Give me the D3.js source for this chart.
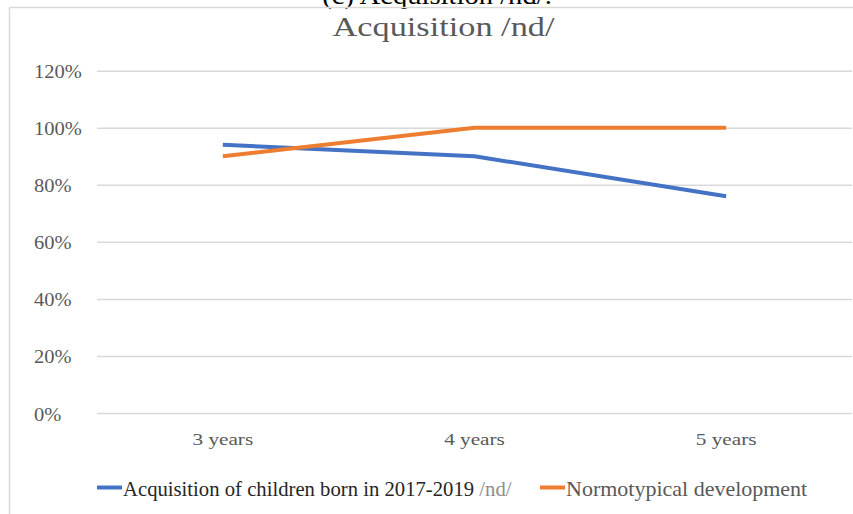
<!DOCTYPE html>
<html>
<head>
<meta charset="utf-8">
<script src="https://cdn.jsdelivr.net/npm/d3@7"></script>
<style>
  html, body { margin: 0; padding: 0; background: #fff; }
  svg { display: block; }
  text { font-family: "Liberation Serif", "Times New Roman", serif; }
</style>
</head>
<body>
<svg id="chart" width="853" height="514"></svg>
<script>
// Data
const categories = ["3 years", "4 years", "5 years"];
const childrenValues = [0.94, 0.90, 0.76];
const normotypicalValues = [0.90, 1.00, 1.00];
const yTicks = [0, 0.2, 0.4, 0.6, 0.8, 1.0, 1.2];
const seriesNames = ["Acquisition of children born in 2017-2019", "Normotypical development"];
const seriesSuffix = [" /nd/", ""];
const seriesColors = ["#4472C4", "#ED7D31"];

const svg = d3.select("#chart");
const W = 853, H = 514;
const plot = { left: 97, right: 852, top: 70.7, bottom: 413 };

// Text drawn with a horizontal stretch around its anchor point
function stretchedText(parent, x, y, sx, size, fill, anchor, str) {
  return parent.append("text")
    .attr("transform", `translate(${x},${y}) scale(${sx},1)`)
    .attr("text-anchor", anchor)
    .attr("font-size", size)
    .attr("fill", fill)
    .text(str);
}

// Caption above the chart frame (partly off the top edge)
stretchedText(svg, 437, 4, 1.1, 26, "#000", "middle", "(c) Acquisition /nd/.");

// Chart frame
svg.append("line").attr("x1", 9.5).attr("x2", W).attr("y1", 7.5).attr("y2", 7.5)
  .attr("stroke", "#d9d9d9").attr("stroke-width", 1.5);
svg.append("line").attr("x1", 9.5).attr("x2", 9.5).attr("y1", 7.5).attr("y2", H)
  .attr("stroke", "#d9d9d9").attr("stroke-width", 1.5);

// Title
stretchedText(svg, 443.5, 36, 1.27, 27, "#595959", "middle", "Acquisition /nd/");

const x = d3.scalePoint().domain(categories).range([plot.left, plot.right]).padding(0.5);
const y = d3.scaleLinear().domain([0, 1.2]).range([plot.bottom, plot.top]);

// Gridlines
const yAxis = d3.axisLeft(y).tickValues(yTicks).tickFormat("")
  .tickSize(-(plot.right - plot.left));
const gy = svg.append("g").attr("transform", `translate(${plot.left},0)`).call(yAxis);
gy.select(".domain").remove();
gy.selectAll(".tick line").attr("stroke", "#d9d9d9").attr("stroke-width", 1.5);

// Y labels, left-aligned
const fmt = d3.format(".0%");
yTicks.forEach(t => {
  stretchedText(svg, 34, y(t) + 7.5, 1.14, 18, "#595959", "start", fmt(t));
});

// Category labels
categories.forEach(c => {
  stretchedText(svg, x(c), plot.bottom + 32, 1.25, 17, "#595959", "middle", c);
});

// Lines
const line = d3.line().x((d, i) => x(categories[i])).y(d => y(d));
[childrenValues, normotypicalValues].forEach((vals, i) => {
  svg.append("path").datum(vals)
    .attr("d", line)
    .attr("fill", "none")
    .attr("stroke", seriesColors[i])
    .attr("stroke-width", 4)
    .attr("stroke-linejoin", "round");
});

// Legend
const legendItems = [
  { x: 97, swatch: 25, sx: 1.035, fill: "#262626" },
  { x: 540, swatch: 25, sx: 1.1, fill: "#595959" }
];
legendItems.forEach((item, i) => {
  svg.append("line")
    .attr("x1", item.x).attr("x2", item.x + item.swatch)
    .attr("y1", 487.5).attr("y2", 487.5)
    .attr("stroke", seriesColors[i]).attr("stroke-width", 4);
  const t = stretchedText(svg, item.x + item.swatch + 1, 496, item.sx, 20, item.fill, "start", "");
  t.append("tspan").text(seriesNames[i]);
  if (seriesSuffix[i]) t.append("tspan").attr("fill", "#8c8c8c").text(seriesSuffix[i]);
});
</script>
</body>
</html>
